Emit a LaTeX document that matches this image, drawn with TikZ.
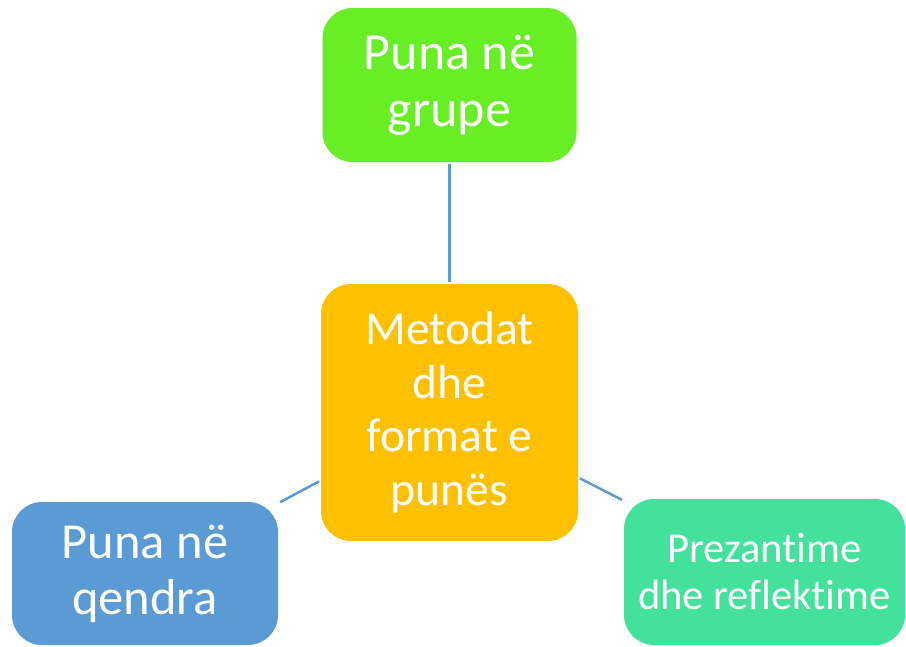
\documentclass[tikz,border=0pt]{standalone}
\usepackage{fontspec}
\setmainfont{Carlito}[Ligatures=NoCommon]
\usepackage{xcolor}
\definecolor{groupgreen}{RGB}{104,238,36}
\definecolor{mainorange}{RGB}{255,192,0}
\definecolor{centerblue}{RGB}{91,155,213}
\definecolor{reflectteal}{RGB}{67,225,156}
\tikzset{
	block/.style={
		rectangle,
		align=center,
		text=white,
		inner sep=0pt,
		rounded corners=30pt
	},
	link/.style={
		draw=centerblue,
		line width=2.5pt,
		shorten <=2pt,
		shorten >=2pt
	}
}

\begin{document}
\begin{tikzpicture}[x=1pt,y=-1pt]
		\useasboundingbox (0,0) rectangle (906,646);
		\draw node[block, fill=mainorange, minimum width=257pt, minimum height=257pt, font=\fontsize{47.5}{53.5}\selectfont] (Main) at (449.5,412.5) {Metodat\\ dhe\\ format e\\ punës};
		\draw node[block, fill=groupgreen, minimum width=254pt, minimum height=154pt, font=\fontsize{52}{57}\selectfont] (Groups) at (449.5,85) {Puna në\\ grupe};
		\draw node[block, fill=centerblue, minimum width=266pt, minimum height=143pt, font=\fontsize{50.5}{56}\selectfont] (Centers) at (145,573.5) {Puna në\\ qendra};
		\draw node[block, fill=reflectteal, minimum width=281pt, minimum height=146pt, font=\fontsize{42.5}{47}\selectfont] (Reflect) at (764.5,572) {Prezantime\\ dhe reflektime};
		
		\draw [link] (Main) -- (Groups);
		\draw [link] (Main) -- (Centers);
		\draw [link] (Main) -- (Reflect);
	\end{tikzpicture}
\end{document}
